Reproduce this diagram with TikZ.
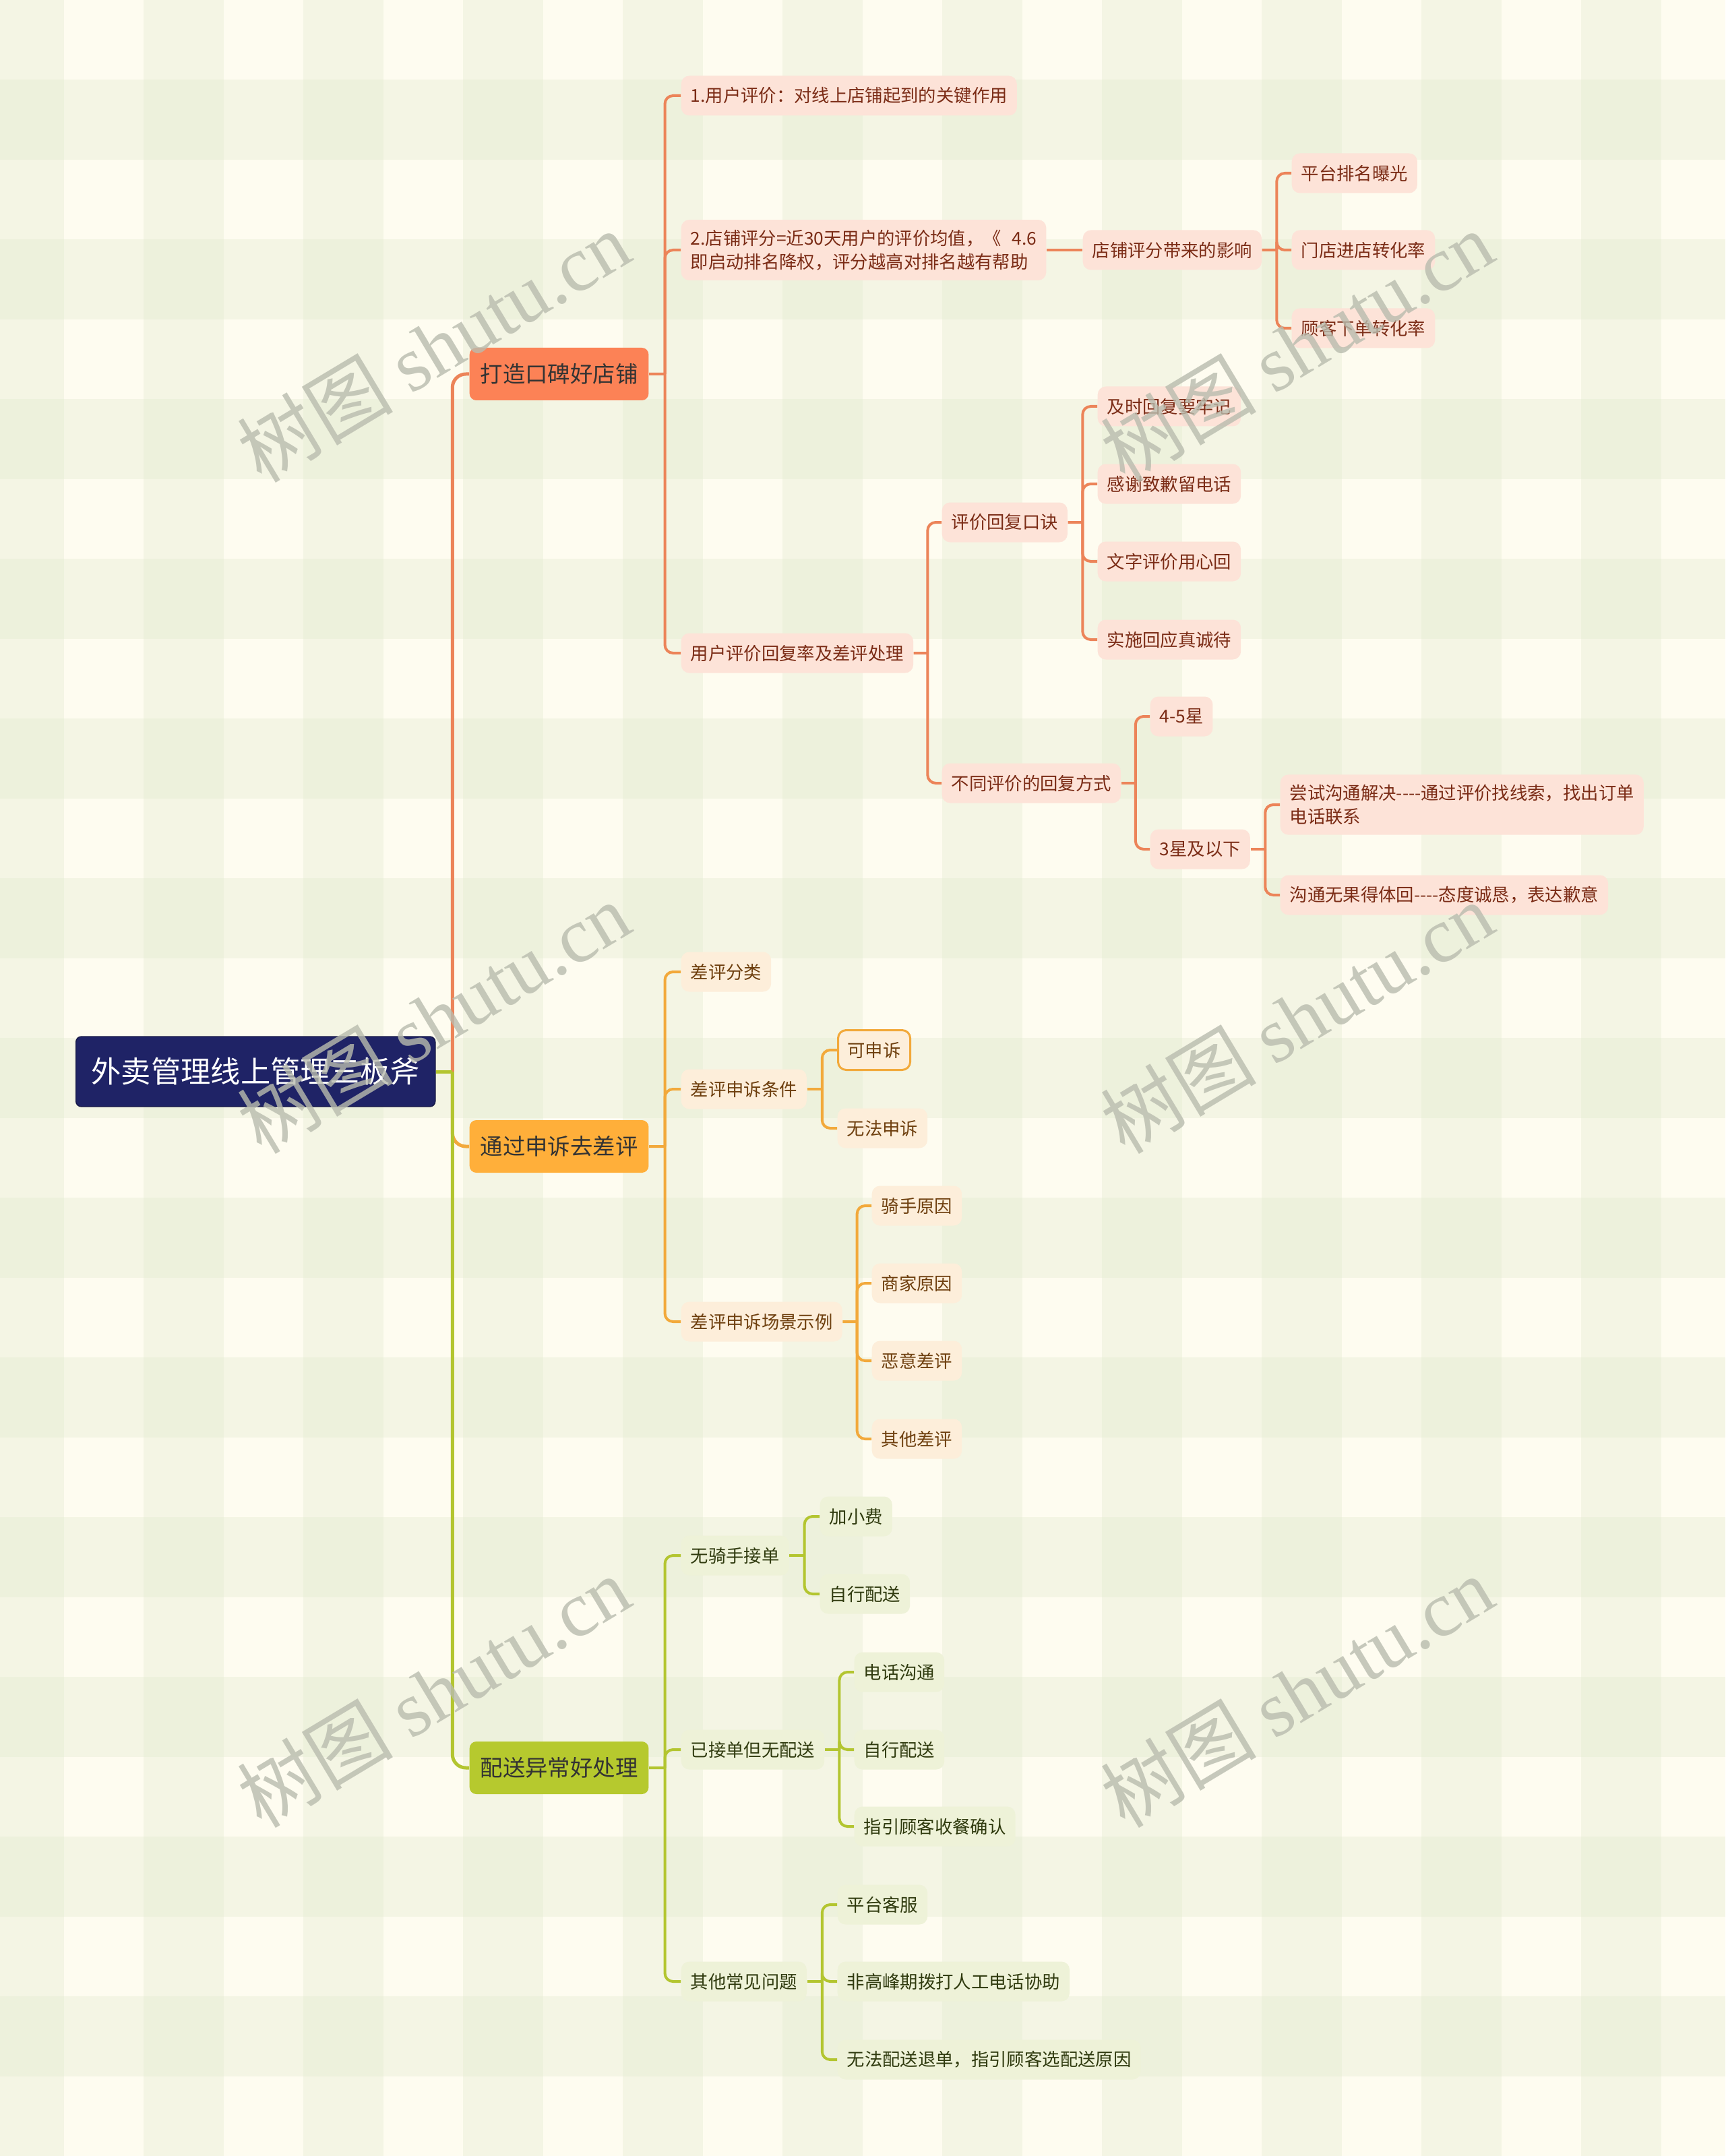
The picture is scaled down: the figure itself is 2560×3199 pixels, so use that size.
\documentclass[tikz,border=0pt]{standalone}
\usepackage{fontspec}
\setmainfont{Noto Sans CJK SC}
\newfontfamily\wmfont{Liberation Serif}
\usetikzlibrary{calc}

\definecolor{bgbase}{HTML}{FEFCF0}
\definecolor{bgstripe}{HTML}{DDE8CB}
\definecolor{rootfill}{HTML}{1F2366}
\definecolor{brA}{HTML}{FC8256}
\definecolor{lineA}{HTML}{EC8459}
\definecolor{softA}{HTML}{FDE3D8}
\definecolor{textA}{HTML}{7B2C16}
\definecolor{brB}{HTML}{FFAF3A}
\definecolor{lineB}{HTML}{F2A93B}
\definecolor{softB}{HTML}{FDEEDA}
\definecolor{textB}{HTML}{6E3F0E}
\definecolor{brC}{HTML}{B6C92E}
\definecolor{lineC}{HTML}{B3C530}
\definecolor{softC}{HTML}{EEF2D8}
\definecolor{textC}{HTML}{2F3A0E}
\definecolor{wmgrey}{HTML}{B9BCAE}

\newcommand{\dashes}{-\kern0pt-\kern0pt-\kern0pt-}

\tikzset{
  rootbox/.style={anchor=west, fill=rootfill, draw=rootfill!70!black, rounded corners=0.8mm,
    minimum height=10.4mm, inner xsep=2.3mm, inner ysep=0pt, text=white,
    font=\fontsize{12.6pt}{15pt}\selectfont},
  topic/.style={anchor=west, rounded corners=1mm, minimum height=7.8mm, inner xsep=1.6mm,
    inner ysep=0pt, text=black!80, font=\fontsize{9.5pt}{12pt}\selectfont},
  topicA/.style={topic, fill=brA},
  topicB/.style={topic, fill=brB},
  topicC/.style={topic, fill=brC},
  leaf/.style={anchor=west, rounded corners=1.2mm, minimum height=5.9mm, inner xsep=1.4mm,
    inner ysep=1.5mm, align=left, font=\fontsize{7.5pt}{9.9pt}\selectfont},
  subA/.style={leaf, fill=softA, text=textA},
  subB/.style={leaf, fill=softB, text=textB},
  subC/.style={leaf, fill=softC, text=textC},
  lkA/.style={draw=lineA, line width=0.5mm},
  lkB/.style={draw=lineB, line width=0.5mm},
  lkC/.style={draw=lineC, line width=0.5mm},
  lnA/.style={draw=lineA, line width=0.4mm},
  lnB/.style={draw=lineB, line width=0.4mm},
  lnC/.style={draw=lineC, line width=0.4mm},
  wm/.style={text=wmgrey, opacity=0.8, rotate=31, font=\fontsize{33pt}{33pt}\selectfont}
}

\begin{document}
\begin{tikzpicture}[x=0.1mm, y=-0.1mm]

% ===== Background =====
\useasboundingbox (0,0) rectangle (2560,3199);
\fill[bgbase] (0,0) rectangle (2560,3199);
\foreach \k in {0,...,10} {
    \fill[bgstripe, opacity=0.3] ({-24+237*\k},0) rectangle ({95+237*\k},3199);
}
\foreach \k in {0,...,12} {
    \fill[bgstripe, opacity=0.3] (0,{118+237*\k}) rectangle (2560,{237+237*\k});
}

% ===== Root and main topics =====
\node[rootbox] (root) at (112,1590) {外卖管理线上管理三板斧};

\node[topicA] (A) at (696,555) {打造口碑好店铺};
\node[topicB] (B) at (696,1701) {通过申诉去差评};
\node[topicC] (C) at (696,2623) {配送异常好处理};

% ===== Branch A =====
\node[subA] (A1) at (1010,142) {1.用户评价：对线上店铺起到的关键作用};
\node[subA] (A2) at (1010,371) {2.店铺评分=近30天用户的评价均值，《\hspace{0.6em}4.6\\即启动排名降权，评分越高对排名越有帮助};
\node[subA] (A3) at (1010,969) {用户评价回复率及差评处理};

\node[subA] (A21) at (1606,371) {店铺评分带来的影响};
\node[subA] (A211) at (1916,257) {平台排名曝光};
\node[subA] (A212) at (1916,371) {门店进店转化率};
\node[subA] (A213) at (1916,487) {顾客下单转化率};

\node[subA] (A31) at (1397,775) {评价回复口诀};
\node[subA] (A32) at (1397,1162) {不同评价的回复方式};

\node[subA] (A311) at (1628,603) {及时回复要牢记};
\node[subA] (A312) at (1628,718) {感谢致歉留电话};
\node[subA] (A313) at (1628,833) {文字评价用心回};
\node[subA] (A314) at (1628,949) {实施回应真诚待};

\node[subA] (A321) at (1706,1063) {4-5星};
\node[subA] (A322) at (1706,1260) {3星及以下};

\node[subA] (A3221) at (1899,1194) {尝试沟通解决\dashes 通过评价找线索，找出订单\\电话联系};
\node[subA] (A3222) at (1899,1328) {沟通无果得体回\dashes 态度诚恳，表达歉意};

% ===== Branch B =====
\node[subB] (B1) at (1010,1442) {差评分类};
\node[subB] (B2) at (1010,1616) {差评申诉条件};
\node[subB] (B3) at (1010,1961) {差评申诉场景示例};

\node[subB, draw=lineB, line width=0.3mm] (B21) at (1242,1558) {可申诉};
\node[subB] (B22) at (1242,1674) {无法申诉};

\node[subB] (B31) at (1293,1789) {骑手原因};
\node[subB] (B32) at (1293,1904) {商家原因};
\node[subB] (B33) at (1293,2019) {恶意差评};
\node[subB] (B34) at (1293,2135) {其他差评};

% ===== Branch C =====
\node[subC] (C1) at (1010,2308) {无骑手接单};
\node[subC] (C2) at (1010,2596) {已接单但无配送};
\node[subC] (C3) at (1010,2940) {其他常见问题};

\node[subC] (C11) at (1216,2250) {加小费};
\node[subC] (C12) at (1216,2365) {自行配送};

\node[subC] (C21) at (1267,2481) {电话沟通};
\node[subC] (C22) at (1267,2596) {自行配送};
\node[subC] (C23) at (1267,2710) {指引顾客收餐确认};

\node[subC] (C31) at (1242,2826) {平台客服};
\node[subC] (C32) at (1242,2940) {非高峰期拨打人工电话协助};
\node[subC] (C33) at (1242,3056) {无法配送退单，指引顾客选配送原因};

% ===== Links from root =====
\coordinate (jR) at ($(root.east)!0.5!(root.east -| A.west)$);
\draw[lkA, rounded corners=2mm] (jR) |- (A.west);
\draw[lkB, rounded corners=2mm] (jR) |- (B.west);
\draw[lkC, rounded corners=2mm] (jR) |- (C.west);
\draw[lkC] (root.east) -- (jR);

% ===== Links in branch A =====
\coordinate (jA) at ($(A.east)!0.5!(A.east -| A1.west)$);
\draw[lnA] (A.east) -- (jA);
\foreach \c in {A1,A2,A3} \draw[lnA, rounded corners=1.2mm] (jA) |- (\c.west);

\draw[lnA] (A2.east) -- (A21.west);

\coordinate (jA21) at ($(A21.east)!0.5!(A21.east -| A211.west)$);
\draw[lnA] (A21.east) -- (jA21);
\foreach \c in {A211,A212,A213} \draw[lnA, rounded corners=1.2mm] (jA21) |- (\c.west);

\coordinate (jA3) at ($(A3.east)!0.5!(A3.east -| A31.west)$);
\draw[lnA] (A3.east) -- (jA3);
\foreach \c in {A31,A32} \draw[lnA, rounded corners=1.2mm] (jA3) |- (\c.west);

\coordinate (jA31) at ($(A31.east)!0.5!(A31.east -| A311.west)$);
\draw[lnA] (A31.east) -- (jA31);
\foreach \c in {A311,A312,A313,A314} \draw[lnA, rounded corners=1.2mm] (jA31) |- (\c.west);

\coordinate (jA32) at ($(A32.east)!0.5!(A32.east -| A321.west)$);
\draw[lnA] (A32.east) -- (jA32);
\foreach \c in {A321,A322} \draw[lnA, rounded corners=1.2mm] (jA32) |- (\c.west);

\coordinate (jA322) at ($(A322.east)!0.5!(A322.east -| A3221.west)$);
\draw[lnA] (A322.east) -- (jA322);
\foreach \c in {A3221,A3222} \draw[lnA, rounded corners=1.2mm] (jA322) |- (\c.west);

% ===== Links in branch B =====
\coordinate (jB) at ($(B.east)!0.5!(B.east -| B1.west)$);
\draw[lnB] (B.east) -- (jB);
\foreach \c in {B1,B2,B3} \draw[lnB, rounded corners=1.2mm] (jB) |- (\c.west);

\coordinate (jB2) at ($(B2.east)!0.5!(B2.east -| B21.west)$);
\draw[lnB] (B2.east) -- (jB2);
\foreach \c in {B21,B22} \draw[lnB, rounded corners=1.2mm] (jB2) |- (\c.west);

\coordinate (jB3) at ($(B3.east)!0.5!(B3.east -| B31.west)$);
\draw[lnB] (B3.east) -- (jB3);
\foreach \c in {B31,B32,B33,B34} \draw[lnB, rounded corners=1.2mm] (jB3) |- (\c.west);

% ===== Links in branch C =====
\coordinate (jC) at ($(C.east)!0.5!(C.east -| C1.west)$);
\draw[lnC] (C.east) -- (jC);
\foreach \c in {C1,C2,C3} \draw[lnC, rounded corners=1.2mm] (jC) |- (\c.west);

\coordinate (jC1) at ($(C1.east)!0.5!(C1.east -| C11.west)$);
\draw[lnC] (C1.east) -- (jC1);
\foreach \c in {C11,C12} \draw[lnC, rounded corners=1.2mm] (jC1) |- (\c.west);

\coordinate (jC2) at ($(C2.east)!0.5!(C2.east -| C21.west)$);
\draw[lnC] (C2.east) -- (jC2);
\foreach \c in {C21,C22,C23} \draw[lnC, rounded corners=1.2mm] (jC2) |- (\c.west);

\coordinate (jC3) at ($(C3.east)!0.5!(C3.east -| C31.west)$);
\draw[lnC] (C3.east) -- (jC3);
\foreach \c in {C31,C32,C33} \draw[lnC, rounded corners=1.2mm] (jC3) |- (\c.west);

% ===== Watermarks =====
\node[wm] (w1) at (643,514) {树图 {\wmfont shutu.cn}};
\node[wm] (w2) at (1924,514) {树图 {\wmfont shutu.cn}};
\node[wm] (w3) at (643,1510) {树图 {\wmfont shutu.cn}};
\node[wm] (w4) at (1924,1510) {树图 {\wmfont shutu.cn}};
\node[wm] (w5) at (643,2510) {树图 {\wmfont shutu.cn}};
\node[wm] (w6) at (1924,2510) {树图 {\wmfont shutu.cn}};

\end{tikzpicture}
\end{document}
